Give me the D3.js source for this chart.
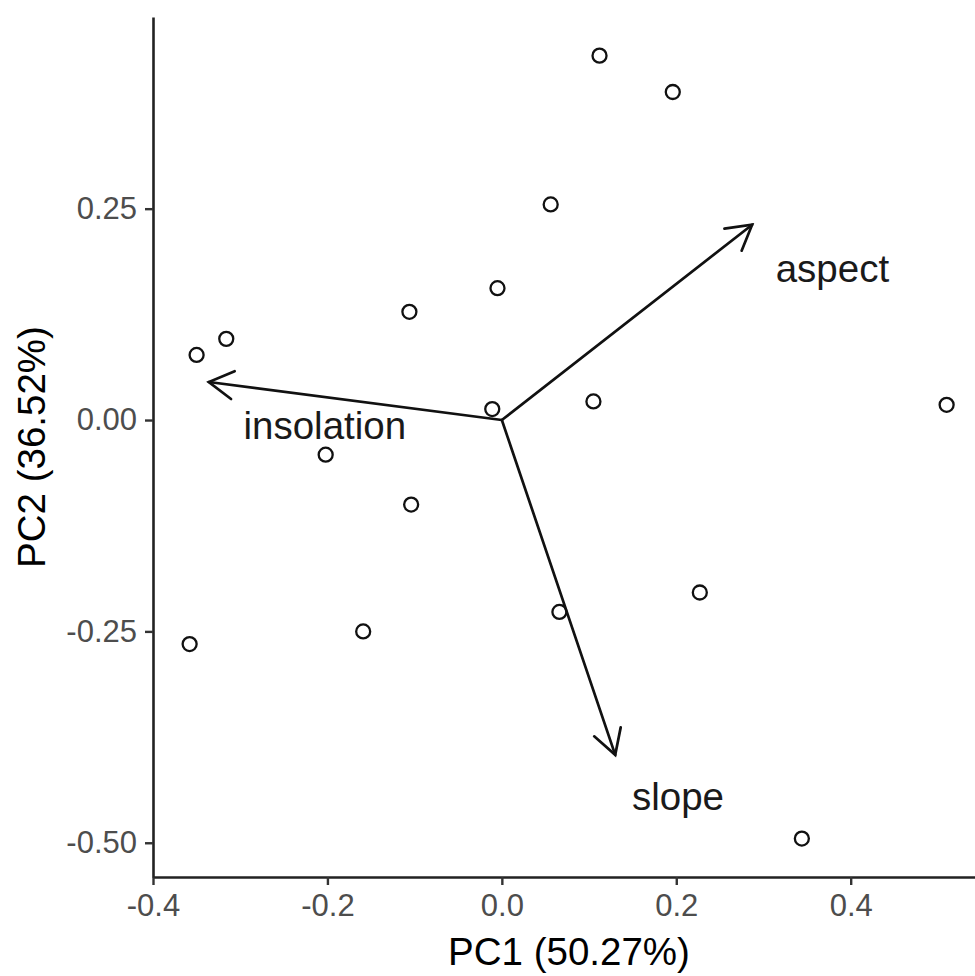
<!DOCTYPE html>
<html>
<head>
<meta charset="utf-8">
<script src="https://cdn.jsdelivr.net/npm/d3@7"></script>
<style>
  body { margin: 0; background: #fff; }
  text { font-family: "Liberation Sans", Arial, sans-serif; }
</style>
</head>
<body>
<div id="svg-container"></div>
<script>
//the data: PCA scores for each site
var pc1 = [0.112, 0.196, 0.056, -0.005, -0.106, -0.316, -0.350, -0.011, 0.105,
  0.510, -0.202, -0.104, 0.066, 0.227, -0.159, -0.358, 0.344];
var pc2 = [0.431, 0.388, 0.255, 0.156, 0.128, 0.096, 0.077, 0.013, 0.022,
  0.018, -0.041, -0.100, -0.227, -0.204, -0.250, -0.265, -0.495];

//the loadings (arrows) and where their labels sit
var varNames = ["aspect", "insolation", "slope"];
var loadX = [0.287, -0.336, 0.130];
var loadY = [0.231, 0.045, -0.396];
var labelX = [0.379, -0.203, 0.202];
var labelY = [0.179, -0.0065, -0.4455];

var xTicks = [-0.4, -0.2, 0.0, 0.2, 0.4];
var yTicks = [-0.5, -0.25, 0.0, 0.25];
var xTitle = "PC1 (50.27%)";
var yTitle = "PC2 (36.52%)";

//the container
var svg = d3
  .select("#svg-container")
  .append("svg")
  .attr("width", 975)
  .attr("height", 976);

var panelLeft = 153,
  panelTop = 17,
  panelRight = 985,
  panelBottom = 877;

var x = d3.scaleLinear().domain([-0.4, 0.554]).range([panelLeft, panelRight]);
var y = d3.scaleLinear().domain([-0.5405, 0.4767]).range([panelBottom, panelTop]);

//the axes
var xAxis = svg
  .append("g")
  .attr("transform", "translate(0," + panelBottom + ")")
  .call(
    d3
      .axisBottom(x)
      .tickValues(xTicks)
      .tickSizeInner(8)
      .tickSizeOuter(0)
      .tickPadding(9)
      .tickFormat((d) => d.toFixed(1))
  );

var yAxis = svg
  .append("g")
  .attr("transform", "translate(" + panelLeft + ",0)")
  .call(
    d3
      .axisLeft(y)
      .tickValues(yTicks)
      .tickSizeInner(8)
      .tickSizeOuter(0)
      .tickPadding(8)
      .tickFormat((d) => d.toFixed(2))
  );

[xAxis, yAxis].forEach(function (g) {
  g.select(".domain").attr("stroke", "#222").attr("stroke-width", 2.6);
  g.selectAll(".tick line").attr("stroke", "#333").attr("stroke-width", 2.4);
  g.selectAll(".tick text")
    .attr("fill", "#4d4d4d")
    .attr("font-size", "31px")
    .style("font-family", "'Liberation Sans', Arial, sans-serif");
});

//axis titles
svg
  .append("text")
  .attr("x", (panelLeft + panelRight) / 2)
  .attr("y", 965)
  .attr("text-anchor", "middle")
  .attr("font-size", "38.5px")
  .attr("fill", "#000")
  .text(xTitle);

svg
  .append("text")
  .attr("transform", "translate(45," + (panelTop + panelBottom) / 2 + ") rotate(-90)")
  .attr("text-anchor", "middle")
  .attr("font-size", "38.5px")
  .attr("fill", "#000")
  .text(yTitle);

//the points
svg
  .append("g")
  .selectAll("circle")
  .data(d3.range(pc1.length))
  .enter()
  .append("circle")
  .attr("cx", (i) => x(pc1[i]))
  .attr("cy", (i) => y(pc2[i]))
  .attr("r", 7)
  .attr("fill", "none")
  .attr("stroke", "#111")
  .attr("stroke-width", 2.3);

//the arrows, with open heads
var headLen = 28,
  headAngle = Math.PI / 6;

var arrows = svg
  .append("g")
  .selectAll("g")
  .data(d3.range(varNames.length))
  .enter()
  .append("g")
  .attr("stroke", "#111")
  .attr("stroke-width", 2.7)
  .attr("fill", "none")
  .attr("stroke-linecap", "round");

arrows
  .append("line")
  .attr("x1", x(0))
  .attr("y1", y(0))
  .attr("x2", (i) => x(loadX[i]))
  .attr("y2", (i) => y(loadY[i]));

arrows.append("path").attr("d", function (i) {
  var tx = x(loadX[i]),
    ty = y(loadY[i]);
  var back = Math.atan2(y(0) - ty, x(0) - tx);
  var a1 = back - headAngle,
    a2 = back + headAngle;
  return (
    "M" + (tx + headLen * Math.cos(a1)) + "," + (ty + headLen * Math.sin(a1)) +
    "L" + tx + "," + ty +
    "L" + (tx + headLen * Math.cos(a2)) + "," + (ty + headLen * Math.sin(a2))
  );
});

//arrow labels
svg
  .append("g")
  .selectAll("text")
  .data(varNames)
  .enter()
  .append("text")
  .attr("x", (d, i) => x(labelX[i]))
  .attr("y", (d, i) => y(labelY[i]))
  .attr("dy", "0.35em")
  .attr("text-anchor", "middle")
  .attr("font-size", "38.5px")
  .attr("fill", "#1a1a1a")
  .text((d) => d);
</script>
</body>
</html>
